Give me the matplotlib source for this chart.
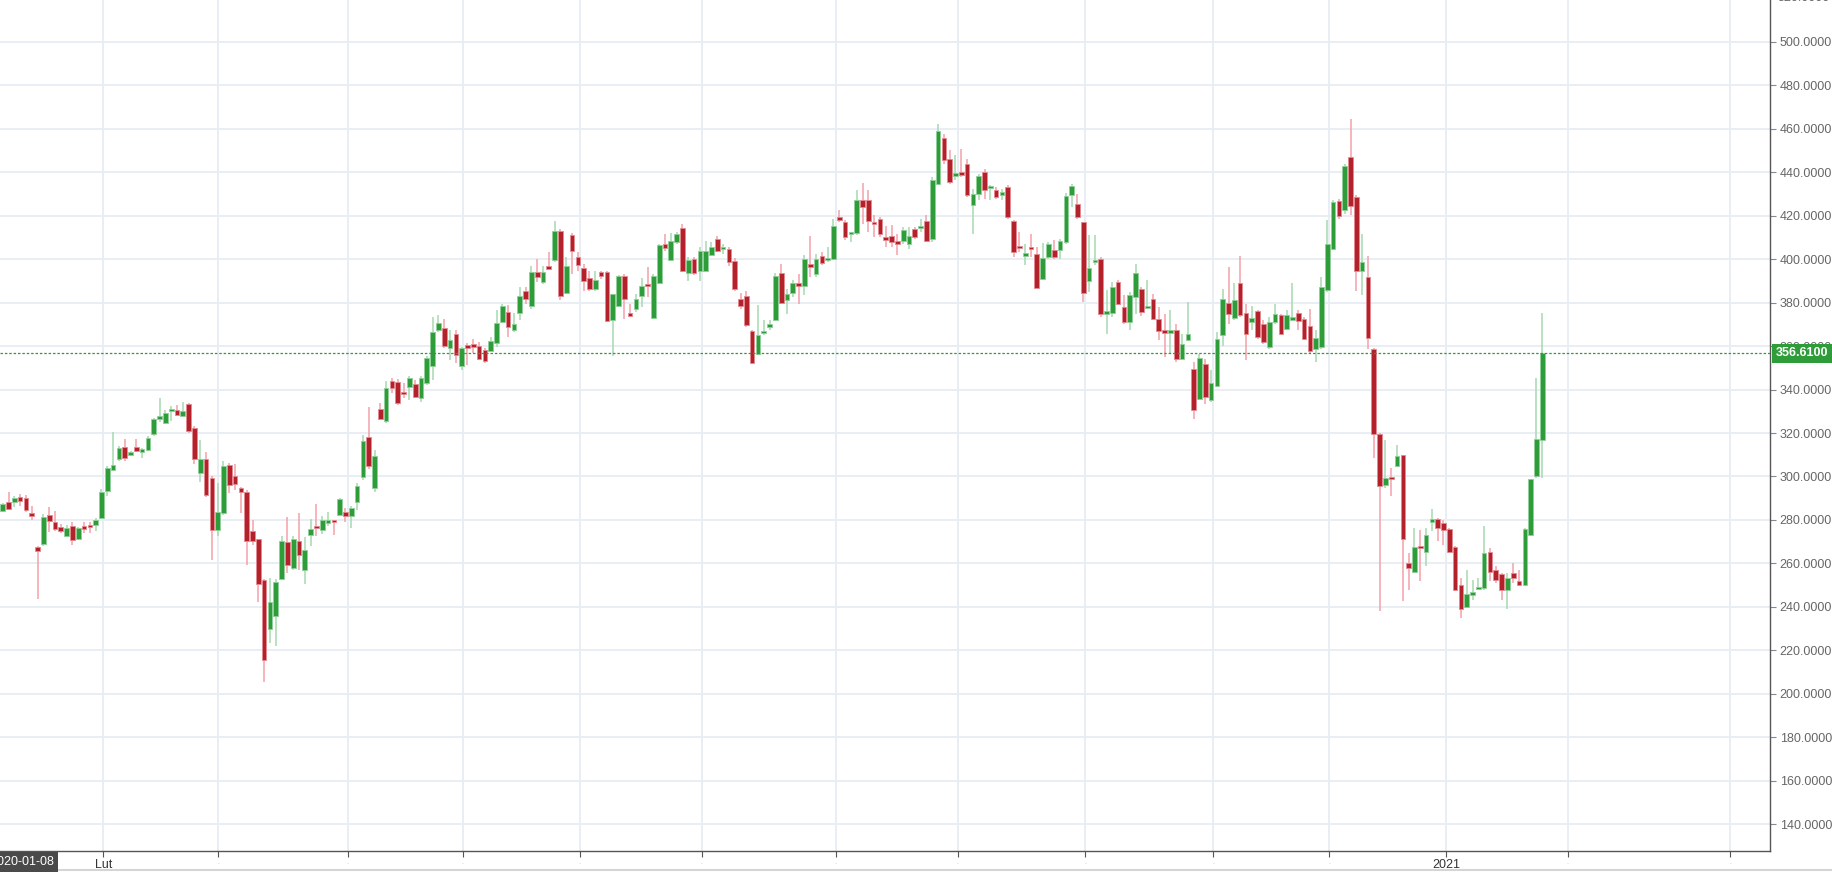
import matplotlib
matplotlib.use("Agg")
import matplotlib.pyplot as plt
from matplotlib.lines import Line2D
import numpy as np

# daily candles, 2020-01-08 .. late Jan 2021
opens = [284, 288.4, 288.1, 290.8, 290.1, 282.9, 267.8, 269, 282.3, 279.2,
         276.8, 272.8, 277.4, 271.3, 277.3, 277.4, 277.9, 280.9, 293.4, 303.1,
         307.9, 313.5, 310.1, 313.5, 311.2, 312, 319.4, 326.6, 324.7, 330.1,
         330.8, 327.8, 333.3, 322.4, 301.4, 308.2, 299.1, 275.6, 283.2, 305.2,
         300, 294.6, 293.1, 274.8, 271.4, 252.4, 229.8, 235.9, 253, 269.9,
         258, 270.4, 256.9, 273.3, 277.1, 275.6, 278.6, 280, 282.4, 283.5,
         281.7, 288.5, 299.7, 318.3, 294.6, 331.2, 325.4, 343.8, 343.5, 339,
         341.2, 342.7, 335.9, 343, 350.9, 367.3, 368.4, 359, 365.4, 350.9,
         360.5, 361, 360.2, 358.2, 357.9, 361.2, 371.1, 375.7, 367.2, 375.2,
         385.2, 378.3, 393.9, 389.5, 396.9, 399.5, 412.9, 384.5, 411, 400.7,
         395.9, 391.3, 386.1, 393.9, 393.9, 371.9, 378.4, 392.4, 375.4, 376.9,
         383.1, 388.1, 373.1, 389, 407.1, 399.5, 407.6, 414.4, 393.5, 400,
         394.6, 394.6, 401.9, 409.4, 404.5, 404.5, 398.9, 381.4, 382.8, 366.9,
         356.5, 366, 368.8, 371.9, 393.6, 381, 384.6, 389, 387.6, 397.6,
         393.3, 401.3, 399.4, 399.8, 419.4, 416.8, 411.4, 412, 427.3, 427.3,
         416.9, 418.3, 409.9, 410.6, 408.2, 408.2, 406.8, 413.7, 414.2, 417.4,
         409.4, 434.7, 455.7, 446.2, 438.4, 439.3, 443.6, 425, 430.1, 440.1,
         432.7, 431.6, 429.6, 433.2, 417.5, 405.9, 401.6, 405.3, 402.2, 390.6,
         400.7, 404, 404, 407.9, 429.6, 425.4, 416.8, 389.8, 398.7, 400.2,
         374.9, 375.2, 389.5, 378, 371.1, 382.6, 386.4, 377.5, 381.4, 372.3,
         367.3, 366.2, 367.3, 354.2, 362.9, 349.2, 335.8, 351.6, 335, 341.8,
         365, 380, 372.9, 389, 375.4, 370.9, 376, 370.3, 359.6, 371.1,
         374.2, 367.9, 371.9, 375.4, 372.5, 369.4, 358.8, 359.6, 385.6, 404.8,
         426.6, 422.4, 446.7, 428.6, 394.5, 391.8, 358.7, 319.7, 295.9, 299.8,
         305, 309.7, 260.3, 256, 267.9, 265.2, 279.3, 280.5, 278.6, 275.9,
         267.5, 250.3, 240.1, 245.7, 248.4, 248.8, 265.3, 257.2, 255.2, 248,
         255.4, 251.9, 249.9, 273.3, 300.1, 316.9]
highs = [288, 292.7, 291, 291.9, 291.4, 286.3, 268.2, 282.7, 286.1, 284.3,
         278.3, 277.9, 279.2, 276.6, 278.9, 278.9, 280.8, 294.2, 304.9, 320.6,
         314, 317.1, 311.7, 317.1, 313.3, 318.6, 327, 336.2, 330.8, 332.4,
         332.7, 334.2, 333.6, 323.2, 316.8, 311.4, 300, 297, 306.9, 306.1,
         305.6, 295.1, 293.6, 280.1, 271.4, 252.7, 253.4, 252.7, 272.5, 281.2,
         272.5, 283.2, 272.2, 280.4, 287.5, 282, 283.9, 280.1, 290.1, 285.5,
         286.3, 296.9, 319.1, 332.1, 312.2, 333.9, 343.8, 345.3, 345, 343,
         346.1, 344.6, 346.4, 355.2, 373.4, 374.2, 372.2, 367.3, 367.3, 359.7,
         361.3, 363.1, 362, 359, 364.3, 376.4, 379.5, 378.7, 375.2, 387.1,
         387.1, 396.9, 400, 396.9, 403, 417.4, 414, 400.7, 412.1, 403,
         397.7, 394.6, 394.6, 394.6, 394.6, 384, 392.7, 393, 379.5, 384,
         391.3, 396.5, 393.1, 406.8, 411.7, 412.1, 412.4, 416.2, 401.1, 400.7,
         405.3, 408.3, 407.6, 410.6, 406.8, 405.3, 400.4, 384.5, 385.1, 367.3,
         378.8, 371.9, 371.9, 393.6, 397.6, 386.4, 390.2, 393.3, 401.7, 410.5,
         402.5, 403.3, 405.6, 418.6, 422.4, 417.8, 412.6, 431.6, 435, 431.6,
         420.1, 419.4, 415.1, 415.5, 411.7, 414.8, 414.8, 414.8, 418.6, 420.1,
         437.8, 462, 457.7, 450, 447.7, 450.8, 446.2, 432.4, 439.3, 441.6,
         433.9, 433.2, 432.4, 433.9, 418, 412.5, 407.1, 411.4, 405.6, 407.4,
         407.9, 408.7, 409.4, 430.4, 434.7, 430.1, 417.1, 411, 411, 401,
         385.7, 389.5, 390.2, 383.4, 384.9, 397.9, 387.2, 390.2, 384.1, 378,
         374.9, 376.4, 370, 365.7, 380.3, 352.7, 356.5, 354.2, 348.9, 366.5,
         386.4, 396.4, 389, 401.3, 379.5, 378.3, 376.4, 371.9, 373.4, 379.2,
         374.9, 376.4, 389, 376.4, 373.4, 377.2, 367.3, 391.8, 417.8, 427,
         427.8, 443.9, 464.6, 429.3, 411.7, 401.3, 359, 320, 316.9, 303.9,
         314.6, 310.1, 264.6, 276.4, 275.6, 276.4, 285.1, 280.8, 280.2, 276.4,
         268, 253.4, 257.2, 252.6, 253.4, 277.1, 267.2, 258.7, 255.7, 255.7,
         260.3, 256.9, 276.4, 298.9, 345.2, 375.4]
lows = [283.5, 284.7, 286, 286.6, 283.5, 279.8, 243.5, 268.2, 274.4, 275.1,
        274, 272, 268.7, 271.3, 274, 274, 275.1, 280.4, 291.1, 302.6,
        307.2, 307.2, 309.8, 311.2, 308.7, 311.5, 318.6, 325, 324, 325.5,
        328.1, 327.5, 320.1, 305.6, 297.7, 290.8, 261.8, 272.5, 282.4, 292.4,
        293.9, 283.2, 259.5, 268.7, 242.3, 205.6, 223.6, 222.1, 252.7, 255.7,
        257.2, 257.2, 250.4, 268.2, 272.5, 273.7, 277.1, 273.2, 281.7, 278.9,
        276.3, 284.7, 298.5, 303.4, 293.1, 326, 324.7, 338.5, 332.9, 336.2,
        335.4, 336.2, 334.2, 342.3, 344.6, 366.6, 359, 353.7, 352.1, 349.1,
        351.4, 356.7, 353.7, 352.4, 357.5, 359.7, 370.4, 364.3, 366.5, 371.9,
        379.5, 377.2, 389.3, 388.6, 395, 398.4, 381, 384, 393.1, 394.6,
        385.5, 385.5, 385.5, 391, 371.1, 355.5, 378, 372.6, 373.4, 375.7,
        378, 382.5, 372.6, 388.6, 403.8, 399.2, 406.8, 393.9, 390.1, 392.8,
        390.1, 394.3, 401.5, 403, 402.2, 396.9, 385.5, 377.2, 368.8, 352.1,
        355.8, 365, 367.3, 371.5, 379.2, 374.9, 382.6, 379.5, 383.4, 391.8,
        391.8, 397.1, 398.7, 399.4, 417.1, 408.6, 407.9, 410.9, 416.3, 412.5,
        410.2, 410.2, 405.6, 405.6, 401.7, 407.1, 404.8, 409.4, 412.5, 407.9,
        407.9, 434, 443.9, 434.7, 436.2, 437.8, 428.6, 411.7, 427, 427.8,
        427, 427.8, 427, 418.6, 401, 403.3, 397.1, 401, 386.5, 390.2,
        399.8, 400.2, 400.2, 407.1, 424, 418.6, 380.3, 384.9, 397.1, 373.4,
        365.7, 373.4, 378.8, 370.3, 367.3, 374.9, 373.7, 377.2, 371.9, 362.7,
        355, 356.5, 352.7, 353.8, 362.7, 326.6, 335, 333.5, 334.3, 341.2,
        360, 370.3, 371.9, 373.4, 353.5, 367.3, 363.4, 361.1, 358.8, 370.3,
        365, 367.3, 371.5, 367.3, 362.7, 356.5, 352.7, 358.8, 384.9, 404,
        418.6, 420.9, 420.1, 385.3, 383.4, 358.8, 308.5, 238.1, 294.7, 290.9,
        304.7, 242.7, 248, 255.7, 251.9, 258.7, 274.8, 270.2, 268.7, 264.9,
        247.7, 235, 239.6, 243.1, 248, 248, 251.9, 250.8, 243.1, 239.1,
        251, 249.6, 249.6, 272.5, 299.3, 299.3]
closes = [287.3, 285, 290.1, 288.7, 284.4, 282, 265.8, 281.2, 279.4, 275.9,
          274.8, 276.2, 271, 276.3, 275.9, 276.8, 280.1, 293, 304.1, 305.5,
          313, 308.4, 311, 311.7, 312.5, 317.7, 326.3, 327.3, 329.3, 331.1,
          328.4, 330.1, 320.9, 308.2, 308.1, 291.6, 275.6, 283.5, 304.6, 296.2,
          296.6, 292.7, 270.5, 270.5, 250.4, 215.6, 242.3, 251.4, 270.4, 259.1,
          271.3, 264.1, 266.2, 275.9, 276.2, 280, 280, 279.1, 289.8, 282,
          285.5, 295.7, 316.3, 304.6, 309.2, 326.6, 340.8, 340.8, 333.6, 338,
          345.3, 336.5, 345.3, 354.4, 366.3, 370.4, 360, 362.8, 355.9, 359.3,
          359.3, 359.7, 354.1, 352.9, 362.3, 370.4, 378.3, 368.7, 370.1, 382.8,
          381.7, 393.9, 391.6, 393.9, 395.6, 412.9, 382.9, 396.8, 403.6, 397.2,
          389.8, 386.1, 390.4, 392.1, 371.4, 383.7, 392.1, 381.6, 373.9, 381.4,
          387.4, 387.4, 392.4, 406.3, 405, 408.3, 411.3, 394.6, 399.7, 393.5,
          403.8, 403.8, 405.3, 403.8, 404.8, 398.4, 386.3, 378.4, 369.6, 352.4,
          364.9, 367, 370.3, 392.1, 380, 383.8, 389, 387.8, 399.8, 396.4,
          400.2, 398.2, 400.2, 415.2, 417.8, 410.2, 412, 427, 424, 417.5,
          416, 411.7, 408.9, 407.9, 407.1, 413.2, 410.8, 409.9, 414.8, 408.3,
          436.2, 458.8, 445.4, 435.2, 439.6, 438.8, 429.6, 429.8, 438.1, 431.6,
          433.3, 428.6, 430, 419.4, 403.3, 405.1, 402.2, 404.4, 386.9, 400.5,
          407.1, 400.7, 408.2, 428.9, 433.5, 419.4, 384.4, 395.9, 399.2, 374.6,
          376, 387.2, 379.5, 371.1, 383.4, 393.6, 375.5, 378.5, 372.5, 366.9,
          366.2, 367.3, 354.2, 360.7, 365.3, 330.5, 354.7, 336.6, 343, 363.3,
          381.8, 374.6, 381, 374.1, 365.3, 372.7, 364.2, 361.9, 370.9, 374.9,
          365.7, 374.2, 373.3, 371.6, 363.4, 357.8, 363.7, 387.2, 407.1, 426,
          419.8, 442.7, 424.3, 394.5, 398.7, 363.7, 319.7, 295.8, 299.2, 298.9,
          309.3, 271.3, 258, 267.5, 267, 273, 280.5, 276.4, 275.6, 265.2,
          248, 239.1, 245.9, 246.2, 249.3, 264.9, 256, 252.6, 248, 253.1,
          253.1, 249.9, 275.9, 298.9, 317.2, 356.61]

last_price = 356.61
first_date = "2020-01-08"
# month boundaries in candle-index units, and their labels
month_ticks = [17.3, 37.1, 59.4, 79.2, 99.3, 120.3, 143.4, 164.4, 186.3,
               208.4, 228.3, 248.5, 269.4, 297.3]
month_labels = ["Lut", ".", ".", ".", ".", ".", ".", ".", ".", ".", ".",
                "2021", ".", "."]
price_ticks = list(range(140, 520, 20))

GREEN = "#2e9c39"
RED = "#b3222b"
GRID = "#e6edf3"

o = np.array(opens)
h = np.array(highs)
l = np.array(lows)
c = np.array(closes)
x = np.arange(len(o))
up = c >= o

fig = plt.figure(figsize=(18.33, 8.73), dpi=100)
ax = fig.add_axes([0, 22 / 873, 1770 / 1833, 851 / 873])

for t in price_ticks + [520]:
    ax.axhline(t, color=GRID, lw=1.3, zorder=0)
for t in month_ticks:
    ax.axvline(t, color=GRID, lw=1.3, zorder=0)

# wicks
ax.vlines(x[up], l[up], h[up], colors="#a6d8b0", lw=1.1, zorder=2)
ax.vlines(x[~up], l[~up], h[~up], colors="#f2a2aa", lw=1.1, zorder=2)

# bodies
bot = np.minimum(o, c)
hgt = np.maximum(np.abs(c - o), 1.0)
ax.bar(x[up], hgt[up], bottom=bot[up], width=0.8, color=GREEN,
       edgecolor="#8fcf9a", linewidth=0.6, zorder=3)
ax.bar(x[~up], hgt[~up], bottom=bot[~up], width=0.8, color=RED,
       edgecolor="#e48a92", linewidth=0.6, zorder=3)

ax.axhline(last_price, color=GREEN, lw=0.9, ls=(0, (2, 1.5)), zorder=4)

ax.set_xlim(-0.465, 304.2)
ax.set_ylim(127.8, 519.1)

for s in ["left", "top"]:
    ax.spines[s].set_visible(False)
for s in ["right", "bottom"]:
    ax.spines[s].set_color("#555555")
    ax.spines[s].set_linewidth(1.0)

ax.yaxis.tick_right()
ax.set_yticks(price_ticks)
ax.set_yticklabels(["%.4f" % t for t in price_ticks])
ax.tick_params(axis="y", direction="out", length=4, color="#888888",
               labelcolor="#666666", labelsize=9, pad=3)
for lab in ax.get_yticklabels():
    lab.set_family("Liberation Sans")

ax.set_xticks(month_ticks)
ax.set_xticklabels(month_labels)
ax.tick_params(axis="x", direction="out", length=4, color="#555555",
               labelcolor="#333333", labelsize=9, pad=2)
for lab in ax.get_xticklabels():
    lab.set_family("Liberation Sans")
    if lab.get_text() == ".":
        lab.set_color("#bbbbbb")
        lab.set_fontsize(5)

# partly hidden top label
ax.annotate("520.0000", xy=(1, 520), xycoords=("axes fraction", "data"),
            xytext=(8, 0), textcoords="offset pixels", va="center", ha="left",
            fontsize=9, color="#666666", family="Liberation Sans",
            annotation_clip=False)

# last price tag
ax.annotate("%.4f" % last_price, xy=(1, last_price),
            xycoords=("axes fraction", "data"), xytext=(6, 0),
            textcoords="offset pixels", va="center", ha="left", fontsize=9,
            color="white", weight="bold", family="Liberation Sans",
            annotation_clip=False,
            bbox=dict(boxstyle="square,pad=0.3", facecolor=GREEN,
                      edgecolor="none"))

# first date tag, cut at the left edge
fig.text(54 / 1833, 11 / 873, first_date, ha="right", va="center",
         fontsize=9, color="white", family="Liberation Sans",
         bbox=dict(boxstyle="square,pad=0.3", facecolor="#4a4a4a",
                   edgecolor="none"))

fig.add_artist(Line2D([0, 1], [3 / 873, 3 / 873], color="#d5d5d5", lw=1.5))

fig.savefig("out.png", dpi=100)
